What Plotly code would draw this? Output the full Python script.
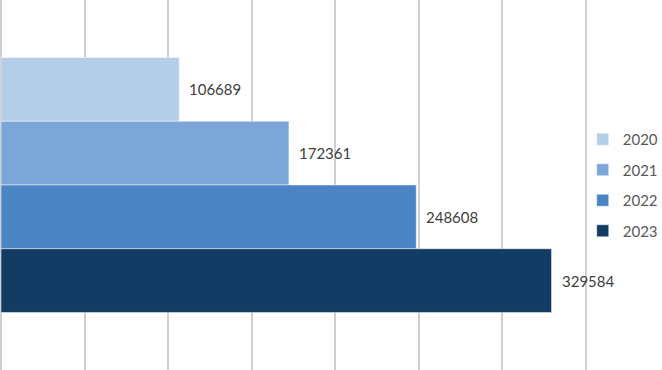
import plotly.graph_objects as go

years = ["2020", "2021", "2022", "2023"]
values = [106689, 172361, 248608, 329584]
colors = ["#B4CDE8", "#7CA6D8", "#4A84C4", "#133C64"]
grid_ticks = [0, 50000, 100000, 150000, 200000, 250000, 300000, 350000]

fig = go.Figure()
for i, (yr, v, c) in enumerate(zip(years, values, colors)):
    fig.add_trace(go.Bar(
        x=[v], y=[0], name=yr, orientation="h",
        marker=dict(color=c, line=dict(color="rgba(255,255,255,0.6)", width=0.8)),
        legendgroup=yr,
    ))

fig.update_layout(
    width=662, height=370,
    margin=dict(l=1, r=68, t=0, b=0, autoexpand=False),
    paper_bgcolor="white", plot_bgcolor="white",
    barmode="group", bargap=0.311, bargroupgap=0,
    font=dict(family="Lato, Liberation Sans, sans-serif", size=15, color="#404040"),
    xaxis=dict(range=[0, 355000], tickvals=grid_ticks, showticklabels=False,
               showgrid=True, gridcolor="#D0D0D0", gridwidth=1.5,
               zeroline=True, zerolinecolor="#D0D0D0", zerolinewidth=1.5, showline=False),
    yaxis=dict(range=[0.5, -0.5], showticklabels=False, showgrid=False, zeroline=False,
               showline=False),
    legend=dict(x=0.981, xanchor="left", y=0.5, yanchor="middle", traceorder="grouped",
                tracegroupgap=8, itemwidth=30, bgcolor="rgba(0,0,0,0)",
                font=dict(size=15, color="#595959")),
    showlegend=True,
)

# data labels through the axes: one per series, shifted right of the bar end
n = len(years)
group_w = 1 - 0.311
for i, (yr, v) in enumerate(zip(years, values)):
    yc = -group_w / 2 + group_w / n * (i + 0.5)
    fig.add_annotation(x=v, y=yc, text=str(v), showarrow=False, xanchor="left",
                       xshift=8, yanchor="middle",
                       font=dict(size=15, color="#404040"))

fig.write_html("out.html")
